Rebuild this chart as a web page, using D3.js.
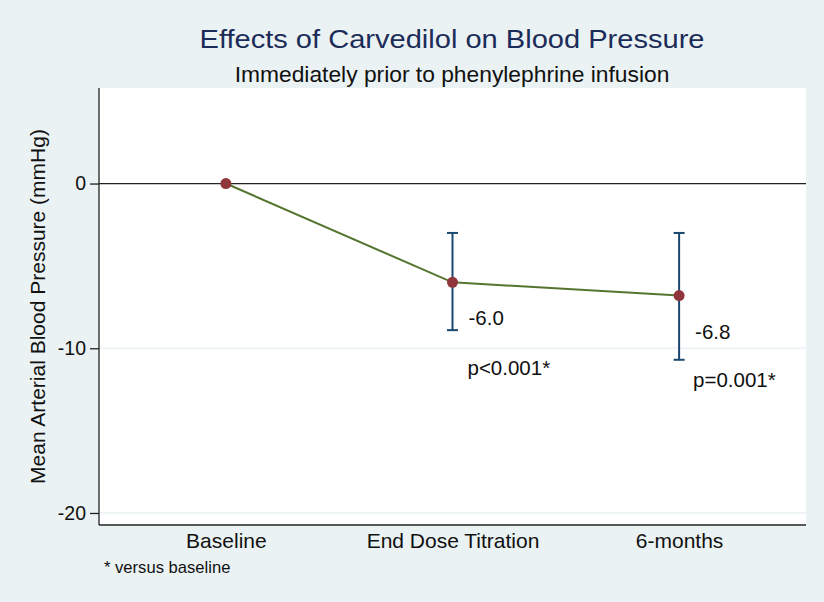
<!DOCTYPE html>
<html><head><meta charset="utf-8">
<script src="https://cdn.jsdelivr.net/npm/d3@7"></script>
<style>body{margin:0;background:#eaf2f3}svg{display:block}text{font-family:"Liberation Sans",Arial,sans-serif}</style>
</head><body>
<script>
const categories = ["Baseline", "End Dose Titration", "6-months"];
const meanChange = [0, -6.0, -6.8];
const ciLow = [null, -8.9, -10.7];
const ciHigh = [null, -3.0, -3.0];
const valueLabels = [null, "-6.0", "-6.8"];
const pLabels = [null, "p<0.001*", "p=0.001*"];
const yTicks = [0, -10, -20];

const W = 824, H = 602;
const FONT = "Liberation Sans, Arial, sans-serif";
const svg = d3.select("body").append("svg").attr("width", W).attr("height", H);
svg.append("rect").attr("width", W).attr("height", H).attr("fill", "#eaf2f3");

const L = 99, R = 806, T = 88, B = 525;
svg.append("rect").attr("x", L).attr("y", T).attr("width", R - L).attr("height", B - T).attr("fill", "#fff");

const x = d3.scaleLinear().domain([0.44, 3.56]).range([L, R]);
const y = d3.scaleLinear().domain([-20.73, 5.8]).range([B, T]);

// gridlines
svg.append("g").selectAll("line").data(yTicks.filter(d => d !== 0)).join("line")
  .attr("x1", L).attr("x2", R).attr("y1", d => y(d)).attr("y2", d => y(d))
  .attr("stroke", "#eaf2f3").attr("stroke-width", 1.5);
// zero line
svg.append("line").attr("x1", L).attr("x2", R).attr("y1", y(0)).attr("y2", y(0))
  .attr("stroke", "#222").attr("stroke-width", 1.3);

// y axis
const yAxis = d3.axisLeft(y).tickValues(yTicks).tickSize(9).tickPadding(4).tickFormat(d => String(d));
const ga = svg.append("g").attr("transform", `translate(${L},0)`).call(yAxis);
ga.select(".domain").attr("d", `M0,${T}V${B}`).attr("stroke", "#222").attr("stroke-width", 1.3);
ga.selectAll(".tick line").attr("stroke", "#222").attr("stroke-width", 1.3);
ga.selectAll(".tick text").attr("font-size", 19.5).attr("fill", "#111").attr("font-family", FONT);

// x axis
const xAxis = d3.axisBottom(x).tickValues([1, 2, 3]).tickSize(0).tickPadding(8).tickFormat(d => categories[d - 1]);
const gx = svg.append("g").attr("transform", `translate(0,${B})`).call(xAxis);
gx.select(".domain").attr("d", `M${L},0H${R}`).attr("stroke", "#222").attr("stroke-width", 1.3);
gx.selectAll(".tick text").attr("font-size", 21).attr("fill", "#111").attr("font-family", FONT);

// error bars
const eb = categories.map((c, i) => ({i, lo: ciLow[i], hi: ciHigh[i]})).filter(d => d.lo !== null);
const navy = "#1a476f";
const g = svg.append("g");
g.selectAll(".ebv").data(eb).join("line").attr("x1", d => x(d.i + 1)).attr("x2", d => x(d.i + 1))
  .attr("y1", d => y(d.lo)).attr("y2", d => y(d.hi)).attr("stroke", navy).attr("stroke-width", 2);
g.selectAll(".ebt").data(eb.flatMap(d => [{i: d.i, v: d.lo}, {i: d.i, v: d.hi}])).join("line")
  .attr("x1", d => x(d.i + 1) - 5.5).attr("x2", d => x(d.i + 1) + 5.5)
  .attr("y1", d => y(d.v)).attr("y2", d => y(d.v)).attr("stroke", navy).attr("stroke-width", 2);

// line
const line = d3.line().x((d, i) => x(i + 1)).y(d => y(d));
svg.append("path").attr("d", line(meanChange)).attr("fill", "none").attr("stroke", "#55752f").attr("stroke-width", 2);

// markers
svg.append("g").selectAll("circle").data(meanChange).join("circle")
  .attr("cx", (d, i) => x(i + 1)).attr("cy", d => y(d)).attr("r", 5.5).attr("fill", "#90353b");

// labels
const lab = svg.append("g").attr("font-size", 20.5).attr("fill", "#111");
categories.forEach((c, i) => {
  if (valueLabels[i]) {
    lab.append("text").attr("x", x(i + 1) + 16).attr("y", y(meanChange[i]) + 43).text(valueLabels[i]);
  }
});
lab.append("text").attr("x", x(2) + 15).attr("y", 375).text(pLabels[1]);
lab.append("text").attr("x", x(3) + 14).attr("y", 387).text(pLabels[2]);

// titles
svg.append("text").attr("x", 452).attr("y", 48).attr("text-anchor", "middle").attr("font-size", 26.5)
  .attr("textLength", 505).attr("lengthAdjust", "spacingAndGlyphs")
  .attr("fill", "#1c2c58").text("Effects of Carvedilol on Blood Pressure");
svg.append("text").attr("x", 452).attr("y", 82).attr("text-anchor", "middle").attr("font-size", 22.8)
  .attr("fill", "#111").text("Immediately prior to phenylephrine infusion");
svg.append("text").attr("transform", `translate(45,${(T + B) / 2}) rotate(-90)`).attr("text-anchor", "middle")
  .attr("font-size", 21).attr("fill", "#111").text("Mean Arterial Blood Pressure (mmHg)");
svg.append("text").attr("x", 104).attr("y", 573).attr("font-size", 16.6).attr("fill", "#111").text("* versus baseline");
</script>
</body></html>
